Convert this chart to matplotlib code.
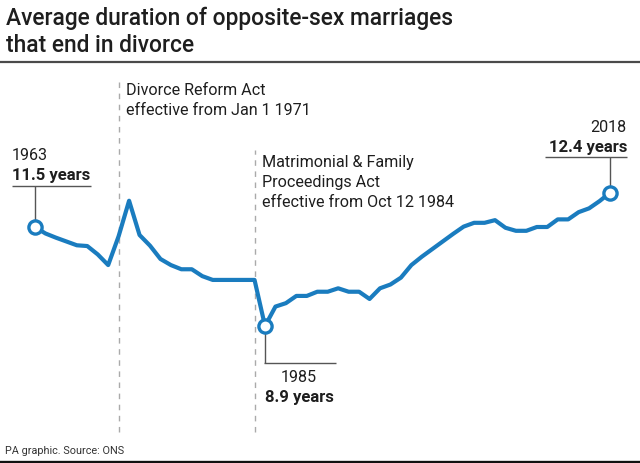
import matplotlib
matplotlib.use("Agg")
import matplotlib.pyplot as plt
import matplotlib.transforms as mtransforms

plt.rcParams["font.family"] = ["Roboto", "DejaVu Sans"]

# data
years = list(range(1963, 2019))
duration = [
    11.50, 11.33, 11.22, 11.12, 11.02, 11.00, 10.78, 10.50, 11.26, 12.19,
    11.29, 11.01, 10.66, 10.50, 10.39, 10.39, 10.21, 10.11, 10.11, 10.11,
    10.11, 10.11, 8.90, 9.41, 9.50, 9.69, 9.69, 9.80, 9.80, 9.89,
    9.80, 9.80, 9.61, 9.89, 9.99, 10.17, 10.50, 10.72, 10.92, 11.12,
    11.32, 11.51, 11.61, 11.61, 11.68, 11.48, 11.40, 11.40, 11.50, 11.50,
    11.70, 11.70, 11.89, 11.99, 12.18, 12.40,
]
acts = [1971.05, 1984.0]
act_labels = [
    ["Divorce Reform Act", "effective from Jan 1 1971"],
    ["Matrimonial & Family", "Proceedings Act", "effective from Oct 12 1984"],
]
callouts = {1963: "11.5 years", 1985: "8.9 years", 2018: "12.4 years"}

BLUE = "#1a7cbf"
TXT = "#1e1e1e"
GREY = "#555555"
FS = 11.6

W, H = 640, 463
fig = plt.figure(figsize=(W / 100, H / 100), dpi=100)
ax = fig.add_axes([0, 0, 1, 1])
ax.axis("off")

# map data to pixels: 1963 -> x35, 2018 -> x610 ; 11.5 -> y227, 8.9 -> y326 (from top)
pxx = 575 / 55
pxy = 99 / 2.6
ax.set_xlim(1963 - 35 / pxx, 1963 + (W - 35) / pxx)
ax.set_ylim(11.5 - (H - 227) / pxy, 11.5 + 227 / pxy)

ax.plot(years, duration, color=BLUE, lw=3, solid_joinstyle="round", zorder=3)
for yr in callouts:
    v = duration[years.index(yr)]
    ax.plot([yr], [v], "o", ms=9.5, mfc="white", mec=BLUE, mew=2.4, zorder=4)

# act lines + labels
blend = mtransforms.blended_transform_factory(ax.transData, ax.transAxes)
shift = mtransforms.ScaledTranslation(7 / 100, 0, fig.dpi_scale_trans)
tops = [77, 150]
bases = [95, 167]
for x, top, base, lines in zip(acts, tops, bases, act_labels):
    ax.plot([x, x], [1 - 432 / H, 1 - top / H], transform=blend, color="#aaaaaa",
            lw=1, dashes=(4, 4), zorder=1)
    for i, line in enumerate(lines):
        ax.text(x, 1 - (base + 20 * i) / H, line, transform=blend + shift,
                fontsize=FS, color=TXT, va="baseline", ha="left")


def label(yr, dx, dy, s, fs=FS, **kw):
    v = duration[years.index(yr)]
    ax.annotate(s, (yr, v), xytext=(dx, dy), textcoords="offset pixels",
                va="baseline", color=TXT, fontsize=fs, **kw)


def seg(yr, x0, y0, x1, y1):
    v = duration[years.index(yr)]
    p = ax.transData.transform((yr, v))
    inv = ax.transData.inverted()
    a = inv.transform((p[0] + x0, p[1] + y0))
    b = inv.transform((p[0] + x1, p[1] + y1))
    ax.plot([a[0], b[0]], [a[1], b[1]], color=GREY, lw=1, zorder=2,
            solid_capstyle="butt")


# 1963
label(1963, -23, 67, "1963", ha="left")
label(1963, -23, 47, callouts[1963], fs=12, ha="left", fontweight="bold")
seg(1963, -23, 41, 56, 41)
seg(1963, 0, 41, 0, 7)
# 2018
label(2018, 16, 61, "2018", ha="right")
label(2018, 17, 41, callouts[2018], fs=12, ha="right", fontweight="bold")
seg(2018, -65, 36, 17, 36)
seg(2018, 0, 36, 0, 7)
# 1985
seg(1985, 0, -7, 0, -37)
seg(1985, -1, -37, 71, -37)
label(1985, 34, -56, "1985", ha="center")
label(1985, 34, -76, callouts[1985], fs=12, ha="center", fontweight="bold")

# title, rules, footer
fig.text(6 / W, 1 - 25 / H, "Average duration of opposite-sex marriages",
         fontsize=16.4, fontweight="medium", color=TXT, va="baseline")
fig.text(6 / W, 1 - 52 / H, "that end in divorce",
         fontsize=16.4, fontweight="medium", color=TXT, va="baseline")
fig.add_artist(plt.Line2D([0, 1], [1 - 62 / H] * 2, color="#4a4a4a", lw=1.6))
fig.add_artist(plt.Line2D([0, 1], [1 - 461.5 / H] * 2, color="#111111", lw=2.4))
fig.text(5 / W, 1 - 454 / H, "PA graphic. Source: ONS", fontsize=7.8,
         color="#333333", va="baseline")

fig.savefig("out.png", dpi=100)
